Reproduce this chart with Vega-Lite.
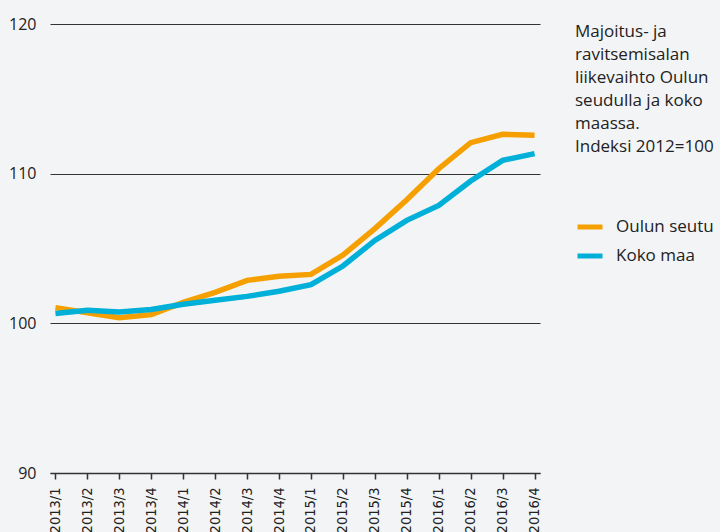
{
  "$schema": "https://vega.github.io/schema/vega-lite/v6.json",
  "width": 490,
  "height": 449,
  "autosize": "none",
  "padding": {"left": 50, "top": 24, "right": 180, "bottom": 59},
  "background": "#f3f4f6",
  "config": {"view": {"stroke": null}, "font": "Open Sans"},
  "data": {
    "values": [
      {"q": "2013/1", "s": "Oulun seutu", "v": 101.05},
      {"q": "2013/2", "s": "Oulun seutu", "v": 100.71},
      {"q": "2013/3", "s": "Oulun seutu", "v": 100.38},
      {"q": "2013/4", "s": "Oulun seutu", "v": 100.58},
      {"q": "2014/1", "s": "Oulun seutu", "v": 101.4},
      {"q": "2014/2", "s": "Oulun seutu", "v": 102.07},
      {"q": "2014/3", "s": "Oulun seutu", "v": 102.87},
      {"q": "2014/4", "s": "Oulun seutu", "v": 103.14},
      {"q": "2015/1", "s": "Oulun seutu", "v": 103.27},
      {"q": "2015/2", "s": "Oulun seutu", "v": 104.56},
      {"q": "2015/3", "s": "Oulun seutu", "v": 106.33},
      {"q": "2015/4", "s": "Oulun seutu", "v": 108.26},
      {"q": "2016/1", "s": "Oulun seutu", "v": 110.33},
      {"q": "2016/2", "s": "Oulun seutu", "v": 112.07},
      {"q": "2016/3", "s": "Oulun seutu", "v": 112.63},
      {"q": "2016/4", "s": "Oulun seutu", "v": 112.56},
      {"q": "2013/1", "s": "Koko maa", "v": 100.65},
      {"q": "2013/2", "s": "Koko maa", "v": 100.87},
      {"q": "2013/3", "s": "Koko maa", "v": 100.76},
      {"q": "2013/4", "s": "Koko maa", "v": 100.92},
      {"q": "2014/1", "s": "Koko maa", "v": 101.27},
      {"q": "2014/2", "s": "Koko maa", "v": 101.54},
      {"q": "2014/3", "s": "Koko maa", "v": 101.8},
      {"q": "2014/4", "s": "Koko maa", "v": 102.14},
      {"q": "2015/1", "s": "Koko maa", "v": 102.58},
      {"q": "2015/2", "s": "Koko maa", "v": 103.83},
      {"q": "2015/3", "s": "Koko maa", "v": 105.54},
      {"q": "2015/4", "s": "Koko maa", "v": 106.88},
      {"q": "2016/1", "s": "Koko maa", "v": 107.88},
      {"q": "2016/2", "s": "Koko maa", "v": 109.51},
      {"q": "2016/3", "s": "Koko maa", "v": 110.89},
      {"q": "2016/4", "s": "Koko maa", "v": 111.34}
    ]
  },
  "mark": {"type": "line", "strokeWidth": 5.5, "strokeJoin": "miter"},
  "encoding": {
    "x": {
      "field": "q",
      "type": "ordinal",
      "sort": null,
      "scale": {"type": "point", "padding": 0.17},
      "axis": {
        "title": null,
        "grid": false,
        "domainColor": "#333333",
        "domainWidth": 1.5,
        "tickColor": "#333333",
        "tickSize": 6,
        "tickWidth": 1.5,
        "labelAngle": -90,
        "labelPadding": 8,
        "labelFont": "DejaVu Sans Condensed",
        "labelFontSize": 14.5,
        "labelColor": "#222222"
      }
    },
    "y": {
      "field": "v",
      "type": "quantitative",
      "scale": {"domain": [90, 120], "nice": false, "zero": false},
      "axis": {
        "title": null,
        "values": [90, 100, 110, 120],
        "domain": false,
        "ticks": false,
        "grid": true,
        "gridColor": "#333333",
        "gridWidth": 1,
        "gridOpacity": 1,
        "labelPadding": 14,
        "labelFontSize": 16,
        "labelColor": "#222222"
      }
    },
    "color": {
      "field": "s",
      "type": "nominal",
      "scale": {"domain": ["Oulun seutu", "Koko maa"], "range": ["#f5a000", "#00b0d8"]},
      "legend": {
        "orient": "none",
        "legendX": 525,
        "legendY": 0,
        "title": ["Majoitus- ja", "ravitsemisalan", "liikevaihto Oulun", "seudulla ja koko", "maassa.", "Indeksi 2012=100"],
        "titleFont": "Open Sans",
        "titleFontSize": 17,
        "titleFontWeight": "normal",
        "titleLineHeight": 23,
        "titleColor": "#222222",
        "titlePadding": 56,
        "symbolType": "stroke",
        "symbolSize": 625,
        "symbolStrokeWidth": 5,
        "labelFontSize": 17,
        "labelColor": "#222222",
        "labelOffset": 11,
        "rowPadding": 4
      }
    }
  }
}
